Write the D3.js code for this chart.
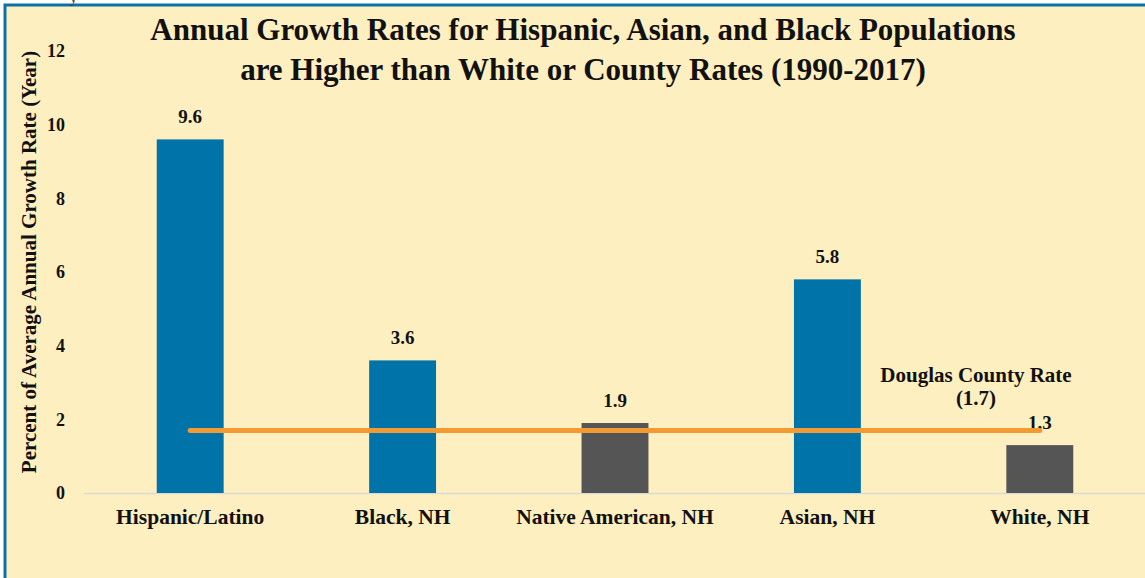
<!DOCTYPE html>
<html><head><meta charset="utf-8">
<script src="https://cdn.jsdelivr.net/npm/d3@7"></script>
<style>
html,body{margin:0;padding:0;background:#fff;}
svg{display:block;}
svg text{font-family:"Liberation Serif", "DejaVu Serif", serif;}
</style></head>
<body>
<svg id="c" width="1145" height="578"></svg>
<script>
const categories = ["Hispanic/Latino","Black, NH","Native American, NH","Asian, NH","White, NH"];
const values = [9.6, 3.6, 1.9, 5.8, 1.3];
const barColors = ["#0073A8","#0073A8","#555555","#0073A8","#555555"];
const countyRate = 1.7;
const yTicks = [0,2,4,6,8,10,12];
const titleLines = ["Annual Growth Rates for Hispanic, Asian, and Black Populations","are Higher than White or County Rates (1990-2017)"];
const yLabel = "Percent of Average Annual Growth Rate (Year)";
const refLabel = ["Douglas County Rate","(1.7)"];

const svg = d3.select("#c");

// panel
svg.append("rect").attr("x",5).attr("y",5).attr("width",1145).attr("height",580)
  .attr("fill","#FDEFBF").attr("stroke","#0A72A8").attr("stroke-width",3);
svg.append("text").attr("x",70).attr("y",3).attr("font-size",14).attr("fill","#333").text("y");

const x = d3.scaleBand().domain(categories).range([84,1146]).paddingInner(0.685).paddingOuter(0.3425);
const y = d3.scaleLinear().domain([0,12]).range([493,51]);

// title
svg.append("g").selectAll("text").data(titleLines).join("text")
  .attr("x",583).attr("y",(d,i)=>40+i*40).attr("text-anchor","middle")
  .attr("font-weight","bold").attr("font-size",31).attr("fill","#111")
  .text(d=>d);

// axis line
svg.append("line").attr("x1",84).attr("x2",1145).attr("y1",y(0)+0.5).attr("y2",y(0)+0.5)
  .attr("stroke","#D9D9D9").attr("stroke-width",1.5);

// y axis
const yAxis = d3.axisLeft(y).tickValues(yTicks).tickSize(0).tickPadding(0).tickFormat(d3.format("d"));
const gy = svg.append("g").attr("transform","translate(65,0)").call(yAxis);
gy.select(".domain").remove();
gy.attr("font-family",null);
gy.selectAll("text").attr("font-weight","bold").attr("font-size",18).attr("fill","#111").attr("dy","0.32em");

// x axis
const xAxis = d3.axisBottom(x).tickSize(0).tickPadding(16);
const gx = svg.append("g").attr("transform",`translate(0,${y(0)})`).call(xAxis);
gx.select(".domain").remove();
gx.attr("font-family",null);
gx.selectAll("text").attr("font-weight","bold").attr("font-size",21.5).attr("fill","#111");

// bars
svg.append("g").selectAll("rect").data(values).join("rect")
  .attr("x",(d,i)=>x(categories[i])).attr("width",x.bandwidth())
  .attr("y",d=>y(d)).attr("height",d=>y(0)-y(d))
  .attr("fill",(d,i)=>barColors[i]);

// value labels
svg.append("g").selectAll("text").data(values).join("text")
  .attr("x",(d,i)=>x(categories[i])+x.bandwidth()/2).attr("y",d=>y(d)-16)
  .attr("text-anchor","middle").attr("font-weight","bold").attr("font-size",19).attr("fill","#111")
  .text(d=>d.toFixed(1));

// county line
svg.append("path").datum(categories)
  .attr("d",d3.line().x(c=>x(c)+x.bandwidth()/2).y(()=>y(countyRate)))
  .attr("stroke","#F39A33").attr("stroke-width",5).attr("stroke-linecap","round").attr("fill","none");

svg.append("g").selectAll("text").data(refLabel).join("text")
  .attr("x",976).attr("y",(d,i)=>382+i*23).attr("text-anchor","middle")
  .attr("font-weight","bold").attr("font-size",21).attr("fill","#111")
  .text(d=>d);

// y label
svg.append("text").attr("transform","translate(36,262) rotate(-90)").attr("text-anchor","middle")
  .attr("font-weight","bold").attr("font-size",21).attr("fill","#111")
  .text(yLabel);
</script>
</body></html>
